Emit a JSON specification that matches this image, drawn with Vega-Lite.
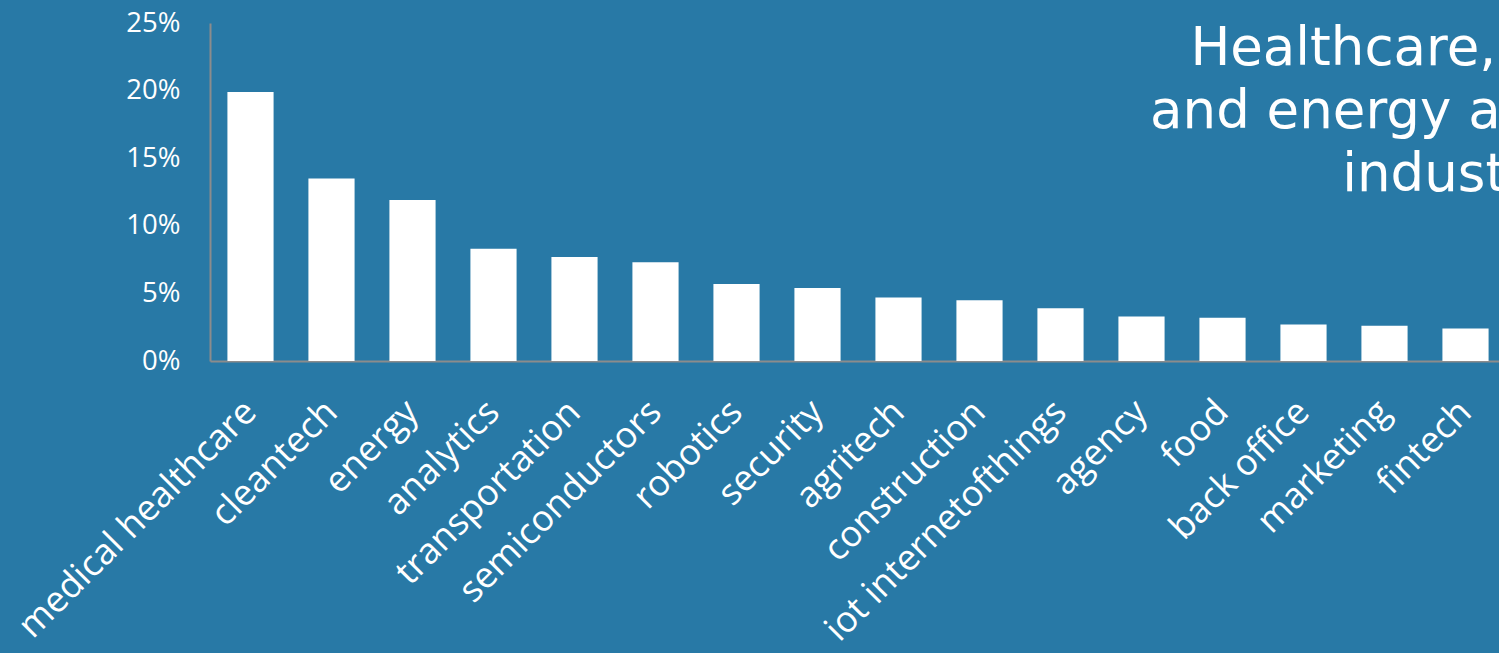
{
  "$schema": "https://vega.github.io/schema/vega-lite/v6.json",
  "width": 1296,
  "height": 338,
  "autosize": {"type": "none"},
  "padding": {"left": 210, "top": 23, "right": 0, "bottom": 292},
  "background": "#2879a6",
  "config": {"view": {"stroke": null}},
  "title": {
    "text": ["Healthcare, cleantech", "and energy are the top 3", "industries."],
    "anchor": "end",
    "align": "center",
    "frame": "group",
    "orient": "top",
    "baseline": "top",
    "offset": 0,
    "dx": -25,
    "dy": 193,
    "font": "DejaVu Sans",
    "fontSize": 53,
    "fontWeight": "normal",
    "lineHeight": 63,
    "color": "white"
  },
  "data": {
    "values": [
      {"industry": "medical healthcare", "share": 0.199},
      {"industry": "cleantech", "share": 0.135},
      {"industry": "energy", "share": 0.119},
      {"industry": "analytics", "share": 0.083},
      {"industry": "transportation", "share": 0.077},
      {"industry": "semiconductors", "share": 0.073},
      {"industry": "robotics", "share": 0.057},
      {"industry": "security", "share": 0.054},
      {"industry": "agritech", "share": 0.047},
      {"industry": "construction", "share": 0.045},
      {"industry": "iot internetofthings", "share": 0.039},
      {"industry": "agency", "share": 0.033},
      {"industry": "food", "share": 0.032},
      {"industry": "back office", "share": 0.027},
      {"industry": "marketing", "share": 0.026},
      {"industry": "fintech", "share": 0.024}
    ]
  },
  "mark": {"type": "bar", "color": "white"},
  "encoding": {
    "x": {
      "field": "industry",
      "type": "nominal",
      "sort": null,
      "scale": {"paddingInner": 0.43, "paddingOuter": 0.215},
      "axis": {
        "title": null,
        "labelAngle": -45,
        "labelAlign": "right",
        "labelBaseline": "middle",
        "labelFont": "Open Sans",
        "labelFontSize": 36,
        "labelColor": "white",
        "labelPadding": 45,
        "labelOverlap": false,
        "labelLimit": 0,
        "ticks": false,
        "domainColor": "#8c8c8c",
        "domainWidth": 2
      }
    },
    "y": {
      "field": "share",
      "type": "quantitative",
      "scale": {"domain": [0, 0.25], "nice": false},
      "axis": {
        "title": null,
        "values": [0, 0.05, 0.1, 0.15, 0.2, 0.25],
        "format": ".0%",
        "labelFont": "Open Sans",
        "labelFontSize": 27.5,
        "labelColor": "white",
        "labelPadding": 30,
        "ticks": false,
        "grid": false,
        "domainColor": "#8c8c8c",
        "domainWidth": 2
      }
    }
  }
}
